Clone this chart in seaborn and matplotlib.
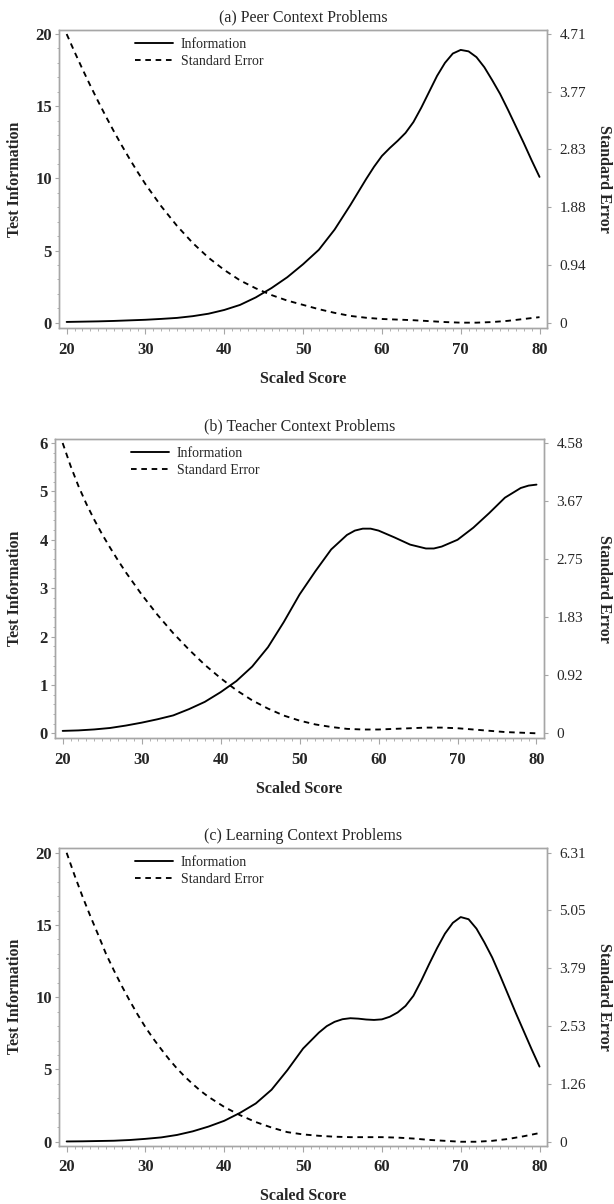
import matplotlib
matplotlib.use("Agg")
import matplotlib.pyplot as plt
from matplotlib.ticker import MultipleLocator, FixedLocator
from matplotlib.lines import Line2D
import seaborn as sns

# -----------------------------
# Data
# -----------------------------

titles = [
    "(a) Peer Context Problems",
    "(b) Teacher Context Problems",
    "(c) Learning Context Problems",
]

peer_info_score = [20, 22, 24, 26, 28, 30, 32, 34, 36, 38, 40, 42, 44, 46, 48, 50, 52, 54, 56,
                   57, 58, 59, 60, 61, 62, 63, 64, 65, 66, 67, 68, 69, 70, 71, 72, 73, 74, 75,
                   76, 77, 78, 79, 80]
peer_info = [0.05, 0.07, 0.09, 0.12, 0.16, 0.2, 0.26, 0.33, 0.45, 0.62, 0.88, 1.23, 1.75, 2.4,
             3.15, 4.05, 5.05, 6.45, 8.15,
             9.05, 9.95, 10.8, 11.55, 12.1, 12.6, 13.15, 13.9, 14.9, 16.0, 17.1, 18.0, 18.65,
             18.9, 18.8, 18.4, 17.7, 16.8, 15.85, 14.75, 13.6, 12.45, 11.25, 10.1]
peer_se_score = [20, 21, 22, 23, 24, 25, 26, 27, 28, 29, 30, 32, 34, 36, 38, 40, 42, 44, 46, 48,
                 50, 52, 54, 56, 58, 60, 62, 64, 66, 68, 70, 72, 74, 76, 78, 80]
peer_se = [4.71, 4.42, 4.14, 3.87, 3.61, 3.36, 3.12, 2.89, 2.67, 2.46, 2.26,
           1.9, 1.58, 1.3, 1.06, 0.86, 0.69, 0.56, 0.45, 0.36, 0.29, 0.22, 0.16, 0.11, 0.08,
           0.06, 0.05, 0.04, 0.025, 0.01, 0.0, 0.0, 0.01, 0.03, 0.06, 0.09]
peer_se_ticks = ["0", "0.94", "1.88", "2.83", "3.77", "4.71"]

teacher_info_score = [20, 22, 24, 26, 28, 30, 32, 34, 36, 38, 40, 42, 44, 46, 48, 50, 52, 54, 56,
                      57, 58, 59, 60, 62, 64, 66, 67, 68, 70, 72, 74, 76, 78, 79, 80]
teacher_info = [0.05, 0.06, 0.08, 0.11, 0.16, 0.22, 0.29, 0.37, 0.5, 0.65, 0.85, 1.08, 1.38,
                1.78, 2.3, 2.87, 3.35, 3.8, 4.1,
                4.19, 4.23, 4.23, 4.19, 4.05, 3.9, 3.82, 3.82, 3.86, 4.0, 4.25, 4.55, 4.87,
                5.07, 5.12, 5.14]
teacher_se_score = [20, 21, 22, 23, 24, 25, 26, 27, 28, 30, 32, 34, 36, 38, 40, 42, 44, 46, 48,
                    50, 52, 54, 56, 58, 60, 62, 64, 66, 68, 70, 72, 74, 76, 78, 80]
teacher_se = [4.58, 4.22, 3.9, 3.62, 3.37, 3.14, 2.93, 2.73, 2.54,
              2.19, 1.87, 1.58, 1.32, 1.08, 0.87, 0.68, 0.52, 0.39, 0.28, 0.2, 0.14, 0.1,
              0.07, 0.06, 0.06, 0.07, 0.08, 0.09, 0.09, 0.08, 0.06, 0.04, 0.02, 0.01, 0.0]
teacher_se_ticks = ["0", "0.92", "1.83", "2.75", "3.67", "4.58"]

learning_info_score = [20, 22, 24, 26, 28, 30, 32, 34, 36, 38, 40, 42, 44, 46, 48, 50, 52,
                       53, 54, 55, 56, 57, 58, 59, 60, 61, 62, 63, 64, 65, 66, 67, 68, 69, 70,
                       71, 72, 73, 74, 75, 76, 77, 78, 79, 80]
learning_info = [0.02, 0.03, 0.05, 0.07, 0.12, 0.2, 0.3, 0.47, 0.72, 1.05, 1.45, 2.0, 2.65,
                 3.6, 4.95, 6.45, 7.55,
                 8.0, 8.3, 8.48, 8.55, 8.52, 8.46, 8.43, 8.47, 8.65, 8.95, 9.4, 10.1, 11.15,
                 12.3, 13.4, 14.4, 15.15, 15.55, 15.4, 14.75, 13.8, 12.75, 11.5, 10.2, 8.9, 7.65,
                 6.4, 5.2]
learning_se_score = [20, 21, 22, 23, 24, 25, 26, 27, 28, 29, 30, 31, 32, 33, 34, 35, 36, 37, 38,
                     40, 42, 44, 46, 48, 50, 52, 54, 56, 58, 60, 62, 64, 66, 68, 70, 72, 74,
                     76, 78, 80]
learning_se = [6.31, 5.82, 5.36, 4.93, 4.52, 4.1, 3.74, 3.4, 3.08, 2.78, 2.5, 2.25, 2.02, 1.8,
               1.6, 1.42, 1.26, 1.11, 0.98,
               0.76, 0.58, 0.43, 0.31, 0.21, 0.16, 0.13, 0.11, 0.1, 0.1, 0.1, 0.09, 0.07, 0.04,
               0.02, 0.0, 0.0, 0.02, 0.06, 0.12, 0.19]
learning_se_ticks = ["0", "1.26", "2.53", "3.79", "5.05", "6.31"]

info_ticks = [[0, 5, 10, 15, 20], [0, 1, 2, 3, 4, 5, 6], [0, 5, 10, 15, 20]]

# -----------------------------
# Style
# -----------------------------

sns.set_style("ticks")
plt.rcParams["font.family"] = ["Liberation Serif", "DejaVu Serif"]

GRAY = "#a6a6a6"
W, H = 614, 1204

# pixel boxes of the axes: left, top, right, bottom
panels = [
    dict(box=(59, 30, 547, 328), ylim=(-0.37, 20.28), minor=1,
         xi=peer_info_score, yi=peer_info, xs=peer_se_score, ys=peer_se, rt=peer_se_ticks),
    dict(box=(55, 439, 544, 738), ylim=(-0.097, 6.083), minor=0.2,
         xi=teacher_info_score, yi=teacher_info, xs=teacher_se_score, ys=teacher_se,
         rt=teacher_se_ticks),
    dict(box=(59, 848, 547, 1145.5), ylim=(-0.26, 20.33), minor=1,
         xi=learning_info_score, yi=learning_info, xs=learning_se_score, ys=learning_se,
         rt=learning_se_ticks),
]

fig = plt.figure(figsize=(W / 100, H / 100), dpi=100)

# -----------------------------
# Panels
# -----------------------------

for i, p in enumerate(panels):
    l, t, r, b = p["box"]
    ax = fig.add_axes([l / W, 1 - b / H, (r - l) / W, (b - t) / H])
    ax2 = ax.twinx()

    sns.lineplot(x=p["xi"], y=p["yi"], ax=ax, color="black", linewidth=1.35)
    sns.lineplot(x=p["xs"], y=p["ys"], ax=ax2, color="black", linewidth=1.35,
                 linestyle=(0, (3, 2.5)))

    top = info_ticks[i][-1]
    se_max = float(p["rt"][-1])
    ax.set_xlim(19.03, 80.95)
    ax.set_ylim(*p["ylim"])
    ax2.set_ylim(p["ylim"][0] / top * se_max, p["ylim"][1] / top * se_max)

    ax.xaxis.set_major_locator(FixedLocator([20, 30, 40, 50, 60, 70, 80]))
    ax.xaxis.set_minor_locator(MultipleLocator(1))
    ax.yaxis.set_major_locator(FixedLocator(info_ticks[i]))
    ax.yaxis.set_minor_locator(MultipleLocator(p["minor"]))
    ax2.yaxis.set_major_locator(FixedLocator([float(v) for v in p["rt"]]))
    ax2.set_yticklabels(p["rt"])

    for a in (ax, ax2):
        for s in a.spines.values():
            s.set_color(GRAY)
            s.set_linewidth(1.0)
            s.set_visible(True)

    ax.tick_params(axis="x", which="major", length=4, width=0.8, color=GRAY, pad=6,
                   labelsize=12)
    ax.tick_params(axis="x", which="minor", length=2.2, width=0.6, color=GRAY)
    ax.tick_params(axis="y", which="major", length=3, width=0.8, color=GRAY, pad=2,
                   labelsize=12)
    ax.tick_params(axis="y", which="minor", length=1.8, width=0.6, color=GRAY)
    ax2.tick_params(axis="y", which="major", length=3, width=0.8, color=GRAY, pad=6,
                    labelsize=11)
    for lab in ax.get_xticklabels() + ax.get_yticklabels():
        lab.set_fontweight("bold")

    ax.set_title(titles[i], fontsize=11.5, pad=6)
    ax.set_xlabel("Scaled Score", fontsize=11.5, fontweight="bold", va="top")
    ax.set_ylabel("Test Information", fontsize=11.5, fontweight="bold", va="center")
    ax2.set_ylabel("Standard Error", fontsize=11.5, fontweight="bold", rotation=270,
                   va="center")
    ax.xaxis.set_label_coords(0.5, -43 / (b - t))
    ax.yaxis.set_label_coords((15 - l) / (r - l), 0.5)
    ax2.yaxis.set_label_coords((604 - l) / (r - l), 0.5)

    handles = [Line2D([], [], color="black", linewidth=1.35),
               Line2D([], [], color="black", linewidth=1.35, linestyle=(0, (3, 2.5)))]
    ax.legend(handles, ["Information", "Standard Error"], loc="upper left",
              bbox_to_anchor=((135 - 59) / 488, 1 - 8 / 298), frameon=False,
              borderaxespad=0, borderpad=0, handlelength=2.7, handletextpad=0.6,
              labelspacing=0.3, fontsize=10)

fig.savefig("out.png", dpi=100)
plt.close(fig)

print("Saved out.png")
